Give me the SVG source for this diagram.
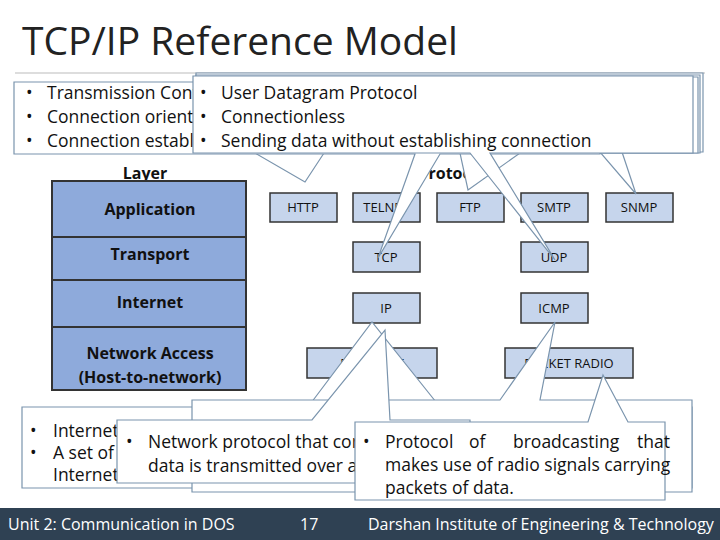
<svg xmlns="http://www.w3.org/2000/svg" width="720" height="540" viewBox="0 0 720 540">
<style>
text{font-family:"Open Sans","Liberation Sans",sans-serif;fill:#111}
.co{fill:#fff;stroke:#7a94ad;stroke-width:1.2}
.lay{fill:#8eaadb;stroke:#333;stroke-width:2}
.pr{fill:#c6d5ec;stroke:#333;stroke-width:1.5}
.b{font-weight:bold;font-size:16px;text-anchor:middle}
.s{font-size:13px;text-anchor:middle}
.t{font-size:17.5px}
.f{fill:#fff;font-size:16px}
</style>
<rect width="720" height="540" fill="#fff"/>
<text x="22" y="55" style="font-size:39px;fill:#222">TCP/IP Reference Model</text>
<line x1="15" y1="73" x2="705" y2="73" stroke="#ddd" stroke-width="2"/>
<g id="table">
<text class="b" x="145" y="179">Layer</text>
<text class="b" x="452" y="179">Protocol</text>
<g id="layers">
<rect class="lay" x="52" y="181" width="194" height="56"/><text class="b" x="150" y="215">Application</text>
<rect class="lay" x="52" y="237" width="194" height="43"/><text class="b" x="150" y="260">Transport</text>
<rect class="lay" x="52" y="280" width="194" height="47"/><text class="b" x="150" y="308">Internet</text>
<rect class="lay" x="52" y="327" width="194" height="63"/><text class="b" x="150" y="359">Network Access</text><text class="b" x="150" y="383">(Host-to-network)</text>
</g>
<g id="HTTP"><rect class="pr" x="270" y="193" width="67" height="29"/><text class="s" x="303" y="212">HTTP</text></g>
<g id="TELNET"><rect class="pr" x="353" y="193" width="67" height="29"/><text class="s" x="386" y="212">TELNET</text></g>
<g id="FTP"><rect class="pr" x="437" y="193" width="67" height="29"/><text class="s" x="470" y="212">FTP</text></g>
<g id="SMTP"><rect class="pr" x="521" y="193" width="67" height="29"/><text class="s" x="554" y="212">SMTP</text></g>
<g id="SNMP"><rect class="pr" x="606" y="193" width="67" height="29"/><text class="s" x="639" y="212">SNMP</text></g>
<g id="TCP"><rect class="pr" x="353" y="242" width="67" height="30"/><text class="s" x="386" y="262">TCP</text></g>
<g id="UDP"><rect class="pr" x="521" y="242" width="67" height="30"/><text class="s" x="554" y="262">UDP</text></g>
<g id="IP"><rect class="pr" x="353" y="293" width="67" height="30"/><text class="s" x="386" y="313">IP</text></g>
<g id="ICMP"><rect class="pr" x="521" y="293" width="67" height="30"/><text class="s" x="554" y="313">ICMP</text></g>
<g id="ETHERNET"><rect class="pr" x="307" y="348" width="130" height="30"/><text class="s" x="372" y="368">ETHERNET</text></g>
<g id="PACKETRADIO"><rect class="pr" x="505" y="348" width="128" height="30"/><text class="s" x="569" y="368">PACKET RADIO</text></g>
</g>
<g id="callouts">
<path class="co" d="M196 73H703V152H622L636 194L600 152H196Z"/>
<path class="co" d="M196 75H700V153H520L468 190L460 153H196Z"/>
<path class="co" d="M196 77H698V153H324L305 182L255 153H196Z"/>
<g id="tcp-callout"><path class="co" d="M14 82H600V154H440L378 258L415 154H14Z"/>
<text class="t" x="26" y="99">•</text><text class="t" x="47" y="99">Transmission Control Protocol</text>
<text class="t" x="26" y="123">•</text><text class="t" x="47" y="123">Connection oriented</text>
<text class="t" x="26" y="147">•</text><text class="t" x="47" y="147">Connection establishment</text></g>
<g id="udp-callout"><path class="co" d="M193 76H693V153H490L555 260L470 153H193Z"/>
<text class="t" x="200" y="99">•</text><text class="t" x="221" y="99">User Datagram Protocol</text>
<text class="t" x="200" y="123">•</text><text class="t" x="221" y="123">Connectionless</text>
<text class="t" x="200" y="147">•</text><text class="t" x="221" y="147">Sending data without establishing connection</text></g>
<g id="ip-callout"><path class="co" d="M22 407H308L372 322L440 407H692V488H22Z"/>
<text class="t" x="30" y="437">•</text><text class="t" x="53" y="437">Internet Protocol</text>
<text class="t" x="30" y="459">•</text><text class="t" x="53" y="459">A set of rules</text>
<text class="t" x="53" y="481">Internet</text></g>
<g id="icmp-callout"><path class="co" d="M192 400H500L555 322L540 400H692V492H192Z"/>
<text class="t" x="270" y="437">Internet Control Message Protocol</text></g>
<g id="eth-callout"><path class="co" d="M117 420H312L385 330L390 420H470V483H117Z"/>
<text class="t" x="126" y="448">•</text><text class="t" x="148" y="448">Network protocol that controls how</text>
<text class="t" x="148" y="472">data is transmitted over a LAN</text></g>
<g id="radio-callout"><path class="co" d="M355 422H588L603 375L628 422H665V500H355Z"/>
<text class="t" x="363" y="448">•</text><text class="t" x="385" y="448">Protocol</text><text class="t" x="469" y="448">of</text><text class="t" x="513" y="448">broadcasting</text><text class="t" x="670" y="448" text-anchor="end">that</text>
<text class="t" x="385" y="471">makes use of radio signals carrying</text>
<text class="t" x="385" y="494">packets of data.</text></g>
</g>
<rect x="0" y="508" width="720" height="32" fill="#2f4153"/>
<text class="f" x="8" y="530">Unit 2: Communication in DOS</text>
<text class="f" x="300" y="530">17</text>
<text class="f" x="368" y="530">Darshan Institute of Engineering &amp; Technology</text>
</svg>
